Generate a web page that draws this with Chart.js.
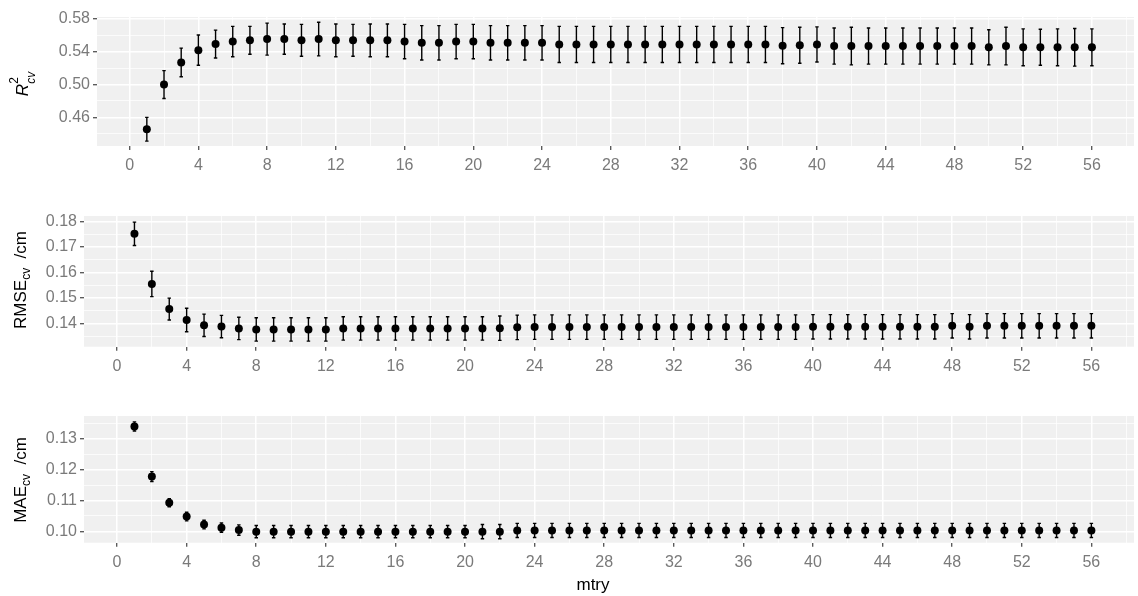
<!DOCTYPE html>
<html>
<head>
<meta charset="utf-8">
<script src="https://cdn.jsdelivr.net/npm/chart.js@4.4.0/dist/chart.umd.min.js"></script>
<style>
  body { margin: 0; background: #fff; }
  #wrap { position: relative; width: 1138px; height: 596px; }
  canvas { position: absolute; left: 0; }
</style>
</head>
<body>
<div id="wrap">
  <canvas id="c1" width="1138" height="180" style="top:0px"></canvas>
  <canvas id="c2" width="1138" height="200" style="top:180px"></canvas>
  <canvas id="c3" width="1138" height="216" style="top:380px"></canvas>
</div>
<script>
// mtry values (x)
const mtry = [1, 2, 3, 4, 5, 6, 7, 8, 9, 10, 11, 12, 13, 14, 15, 16, 17, 18, 19, 20,
  21, 22, 23, 24, 25, 26, 27, 28, 29, 30, 31, 32, 33, 34, 35, 36, 37, 38, 39, 40,
  41, 42, 43, 44, 45, 46, 47, 48, 49, 50, 51, 52, 53, 54, 55, 56];

// R2 cv: mean and error bar half-width
const r2Mean = [0.4455, 0.500, 0.527, 0.542, 0.5495, 0.5525, 0.554, 0.5555, 0.5555, 0.554,
  0.5555, 0.554, 0.554, 0.554, 0.554, 0.5525, 0.551, 0.551, 0.5525, 0.5525,
  0.551, 0.551, 0.551, 0.551, 0.549, 0.549, 0.549, 0.549, 0.549, 0.549,
  0.549, 0.549, 0.549, 0.549, 0.549, 0.549, 0.549, 0.5475, 0.548, 0.549,
  0.547, 0.547, 0.547, 0.547, 0.547, 0.547, 0.547, 0.547, 0.547, 0.5455,
  0.547, 0.5455, 0.5455, 0.5455, 0.5455, 0.5455];
const r2Sd = [0.0145, 0.017, 0.0175, 0.0185, 0.017, 0.0185, 0.017, 0.0195, 0.0185, 0.0195,
  0.0205, 0.020, 0.0195, 0.020, 0.020, 0.021, 0.021, 0.021, 0.021, 0.021,
  0.021, 0.021, 0.021, 0.021, 0.022, 0.022, 0.022, 0.022, 0.022, 0.022,
  0.022, 0.022, 0.022, 0.022, 0.022, 0.022, 0.022, 0.022, 0.022, 0.0215,
  0.022, 0.023, 0.022, 0.022, 0.022, 0.022, 0.022, 0.022, 0.022, 0.0215,
  0.023, 0.0225, 0.022, 0.0225, 0.023, 0.0225];

// RMSE cv
const rmseMean = [0.1752, 0.1555, 0.1456, 0.1413, 0.1392, 0.1387, 0.1380, 0.1376, 0.1376, 0.1376,
  0.1376, 0.1376, 0.1380, 0.1380, 0.1380, 0.1380, 0.1380, 0.1380, 0.1380, 0.1380,
  0.1380, 0.1381, 0.1384, 0.1385, 0.1385, 0.1385, 0.1385, 0.1385, 0.1385, 0.1385,
  0.1385, 0.1385, 0.1385, 0.1385, 0.1385, 0.1385, 0.1385, 0.1385, 0.1385, 0.1386,
  0.1386, 0.1386, 0.1386, 0.1386, 0.1386, 0.1386, 0.1386, 0.1390, 0.1386, 0.1390,
  0.1390, 0.1390, 0.1390, 0.1390, 0.1390, 0.1390];
const rmseSd = [0.0046, 0.0050, 0.0043, 0.0046, 0.0044, 0.0044, 0.0044, 0.0046, 0.0046, 0.0046,
  0.0046, 0.0046, 0.0046, 0.0046, 0.0046, 0.0046, 0.0046, 0.0046, 0.0046, 0.0046,
  0.0046, 0.0048, 0.0048, 0.0048, 0.0048, 0.0048, 0.0048, 0.0048, 0.0048, 0.0048,
  0.0048, 0.0048, 0.0048, 0.0048, 0.0048, 0.0048, 0.0048, 0.0048, 0.0048, 0.0048,
  0.0048, 0.0048, 0.0048, 0.0048, 0.0048, 0.0048, 0.0048, 0.0048, 0.0048, 0.0048,
  0.0048, 0.0048, 0.0048, 0.0048, 0.0048, 0.0048];

// MAE cv
const maeMean = [0.1341, 0.1178, 0.1093, 0.1048, 0.1022, 0.1012, 0.1004, 0.0999, 0.0999, 0.0999,
  0.0999, 0.0999, 0.0999, 0.0999, 0.0999, 0.0999, 0.0999, 0.0999, 0.0999, 0.0999,
  0.0999, 0.0999, 0.1003, 0.1003, 0.1003, 0.1003, 0.1003, 0.1003, 0.1003, 0.1003,
  0.1003, 0.1003, 0.1003, 0.1003, 0.1003, 0.1003, 0.1003, 0.1003, 0.1003, 0.1003,
  0.1003, 0.1003, 0.1003, 0.1003, 0.1003, 0.1003, 0.1003, 0.1003, 0.1003, 0.1003,
  0.1003, 0.1003, 0.1003, 0.1003, 0.1003, 0.1003];
const maeSd = [0.0015, 0.0016, 0.0013, 0.0014, 0.0014, 0.0015, 0.0017, 0.0020, 0.0020, 0.0020,
  0.0020, 0.0020, 0.0020, 0.0020, 0.0020, 0.0020, 0.0020, 0.0020, 0.0020, 0.0020,
  0.0023, 0.0023, 0.0023, 0.0023, 0.0023, 0.0023, 0.0023, 0.0023, 0.0023, 0.0023,
  0.0023, 0.0023, 0.0023, 0.0023, 0.0023, 0.0023, 0.0023, 0.0023, 0.0023, 0.0023,
  0.0023, 0.0023, 0.0023, 0.0023, 0.0023, 0.0023, 0.0023, 0.0023, 0.0023, 0.0023,
  0.0023, 0.0023, 0.0023, 0.0023, 0.0023, 0.0023];

// ticks (grid lines) and which of them get labels
const xTicks = [0, 2, 4, 6, 8, 10, 12, 14, 16, 18, 20, 22, 24, 26, 28, 30, 32, 34, 36, 38,
  40, 42, 44, 46, 48, 50, 52, 54, 56, 58];
const xLabels = [0, 4, 8, 12, 16, 20, 24, 28, 32, 36, 40, 44, 48, 52, 56];
const r2Ticks = [0.44, 0.46, 0.48, 0.50, 0.52, 0.54, 0.56, 0.58];
const r2Labels = [0.46, 0.50, 0.54, 0.58];
const rmseTicks = [0.135, 0.14, 0.145, 0.15, 0.155, 0.16, 0.165, 0.17, 0.175, 0.18];
const rmseLabels = [0.14, 0.15, 0.16, 0.17, 0.18];
const maeTicks = [0.10, 0.105, 0.11, 0.115, 0.12, 0.125, 0.13, 0.135];
const maeLabels = [0.10, 0.11, 0.12, 0.13];

const FONT = "'Liberation Sans', Arial, Helvetica, sans-serif";
const has = (arr, v) => arr.some((a) => Math.abs(a - v) < 1e-9);

// grey panel behind the grid
const panelBg = {
  id: "panelBg",
  beforeDraw(chart) {
    const { ctx, chartArea: a } = chart;
    ctx.save();
    ctx.fillStyle = "#F0F0F0";
    ctx.fillRect(a.left, a.top, a.right - a.left, a.bottom - a.top);
    ctx.restore();
  }
};

// vertical error bars with caps
const errorBars = {
  id: "errorBars",
  afterDatasetsDraw(chart) {
    const { ctx, scales: { x, y } } = chart;
    const ds = chart.data.datasets[0];
    ctx.save();
    ctx.strokeStyle = "#000";
    ctx.lineWidth = 1.4;
    ctx.beginPath();
    ds.data.forEach((p, i) => {
      const px = x.getPixelForValue(p.x);
      const hw = x.getPixelForValue(p.x + 0.1) - px;
      const top = y.getPixelForValue(p.y + ds.sd[i]);
      const bot = y.getPixelForValue(p.y - ds.sd[i]);
      ctx.moveTo(px, top); ctx.lineTo(px, bot);
      ctx.moveTo(px - hw, top); ctx.lineTo(px + hw, top);
      ctx.moveTo(px - hw, bot); ctx.lineTo(px + hw, bot);
    });
    ctx.stroke();
    ctx.restore();
  }
};

// rotated y title with sub/superscripts
function drawYTitle(ctx, parts, bx, cy) {
  let cursor = 0, lastStart = 0;
  const placed = parts.map((p) => {
    ctx.font = (p.italic ? "italic " : "") + p.size + "px " + FONT;
    const w = ctx.measureText(p.t).width;
    let x;
    if (p.stack) { x = lastStart; cursor = Math.max(cursor, x + w); }
    else { x = cursor; lastStart = cursor; cursor += w; }
    return { ...p, x };
  });
  ctx.save();
  ctx.translate(bx, cy);
  ctx.rotate(-Math.PI / 2);
  ctx.fillStyle = "#000";
  ctx.textBaseline = "alphabetic";
  ctx.textAlign = "left";
  placed.forEach((p) => {
    ctx.font = (p.italic ? "italic " : "") + p.size + "px " + FONT;
    ctx.fillText(p.t, p.x - cursor / 2, p.shift || 0);
  });
  ctx.restore();
}

function makePanel(id, means, sds, yMin, yMax, yTicks, yLabels, box, title, withX) {
  const points = mtry.map((m, i) => ({ x: m, y: means[i] }));
  const titles = {
    id: "titles",
    afterDraw(chart) {
      const ctx = chart.ctx;
      drawYTitle(ctx, title.parts, title.bx, title.cy);
      if (withX) {
        ctx.save();
        ctx.fillStyle = "#000";
        ctx.font = "17px " + FONT;
        ctx.textAlign = "center";
        ctx.textBaseline = "alphabetic";
        ctx.fillText("mtry", withX.x, withX.y);
        ctx.restore();
      }
    }
  };
  return new Chart(document.getElementById(id), {
    type: "scatter",
    data: {
      datasets: [{
        data: points,
        sd: sds,
        backgroundColor: "#000",
        borderWidth: 0,
        pointRadius: 4,
        pointHoverRadius: 4
      }]
    },
    options: {
      responsive: false,
      animation: false,
      events: [],
      layout: { padding: { top: box.top, right: 1, left: 0, bottom: 0 } },
      plugins: { legend: { display: false }, tooltip: { enabled: false } },
      scales: {
        x: {
          type: "linear",
          min: -1.9,
          max: 58.45,
          afterFit: (s) => { s.height = box.xh; },
          afterBuildTicks: (s) => { s.ticks = xTicks.map((v) => ({ value: v })); },
          border: { display: false },
          grid: {
            color: "#FFFFFF",
            lineWidth: (c) => (has(xLabels, c.tick ? c.tick.value : NaN) ? 1.5 : 0.75),
            tickLength: 4,
            tickWidth: 1.1,
            tickColor: (c) => (has(xLabels, c.tick ? c.tick.value : NaN) ? "#333333" : "rgba(0,0,0,0)")
          },
          ticks: {
            autoSkip: false,
            maxRotation: 0,
            padding: 6,
            color: "#7A7A7A",
            font: { family: FONT, size: 16 },
            callback: (v) => (has(xLabels, v) ? String(v) : "")
          }
        },
        y: {
          type: "linear",
          min: yMin,
          max: yMax,
          afterFit: (s) => { s.width = box.left; },
          afterBuildTicks: (s) => { s.ticks = yTicks.map((v) => ({ value: v })); },
          border: { display: false },
          grid: {
            color: "#FFFFFF",
            lineWidth: (c) => (has(yLabels, c.tick ? c.tick.value : NaN) ? 1.5 : 0.75),
            tickLength: 4,
            tickWidth: 1.1,
            tickColor: (c) => (has(yLabels, c.tick ? c.tick.value : NaN) ? "#333333" : "rgba(0,0,0,0)")
          },
          ticks: {
            autoSkip: false,
            padding: 3,
            color: "#7A7A7A",
            font: { family: FONT, size: 16 },
            callback: (v) => (has(yLabels, v) ? v.toFixed(2) : "")
          }
        }
      }
    },
    plugins: [panelBg, errorBars, titles]
  });
}

makePanel("c1", r2Mean, r2Sd, 0.425, 0.5825, r2Ticks, r2Labels,
  { top: 17, left: 97, xh: 34 },
  { bx: 28, cy: 84, parts: [
    { t: "R", size: 17, italic: true },
    { t: "2", size: 12, shift: -10 },
    { t: "cv", size: 12, italic: true, shift: 7, stack: true }
  ] }, null);

makePanel("c2", rmseMean, rmseSd, 0.1308, 0.1822, rmseTicks, rmseLabels,
  { top: 36, left: 84, xh: 33.3 },
  { bx: 25.5, cy: 100, parts: [
    { t: "RMSE", size: 17 },
    { t: "cv", size: 12, shift: 4 },
    { t: "  /cm", size: 17 }
  ] }, null);

makePanel("c3", maeMean, maeSd, 0.0963, 0.1375, maeTicks, maeLabels,
  { top: 36, left: 84, xh: 53.3 },
  { bx: 25.5, cy: 100, parts: [
    { t: "MAE", size: 17 },
    { t: "cv", size: 12, shift: 4 },
    { t: "  /cm", size: 17 }
  ] }, { x: 593, y: 210 });
</script>
</body>
</html>
